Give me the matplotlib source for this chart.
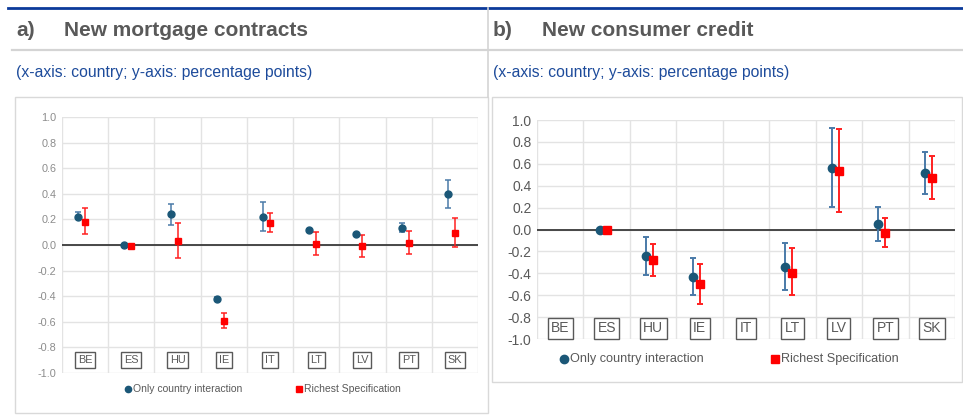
import numpy as np
import matplotlib
matplotlib.use('Agg')
import matplotlib.pyplot as plt
from matplotlib.lines import Line2D
from matplotlib.patches import Rectangle

plt.rcParams['font.family'] = ['Liberation Sans', 'DejaVu Sans']

countries = ['BE', 'ES', 'HU', 'IE', 'IT', 'LT', 'LV', 'PT', 'SK']

# a) new mortgage contracts
mort_only = [0.22, 0.0, 0.24, -0.42, 0.22, 0.115, 0.083, 0.135, 0.395]
mort_only_lo = [0.20, -0.005, 0.16, -0.435, 0.11, 0.105, 0.075, 0.10, 0.29]
mort_only_hi = [0.26, 0.005, 0.32, -0.405, 0.335, 0.125, 0.09, 0.175, 0.505]
mort_rich = [0.18, -0.005, 0.03, -0.595, 0.175, 0.008, -0.008, 0.016, 0.095]
mort_rich_lo = [0.085, -0.01, -0.105, -0.65, 0.103, -0.08, -0.095, -0.07, -0.013]
mort_rich_hi = [0.29, 0.0, 0.17, -0.535, 0.247, 0.103, 0.082, 0.108, 0.21]

# b) new consumer credit (no estimate for BE and IT)
cons_only = [np.nan, 0.0, -0.243, -0.432, np.nan, -0.343, 0.564, 0.049, 0.512]
cons_only_lo = [np.nan, 0.0, -0.413, -0.596, np.nan, -0.55, 0.201, -0.106, 0.326]
cons_only_hi = [np.nan, 0.0, -0.064, -0.264, np.nan, -0.125, 0.927, 0.207, 0.704]
cons_rich = [np.nan, 0.0, -0.283, -0.502, np.nan, -0.395, 0.534, -0.034, 0.47]
cons_rich_lo = [np.nan, 0.0, -0.429, -0.681, np.nan, -0.602, 0.159, -0.158, 0.28]
cons_rich_hi = [np.nan, 0.0, -0.131, -0.313, np.nan, -0.173, 0.921, 0.104, 0.668]

yticks = [-1.0, -0.8, -0.6, -0.4, -0.2, 0.0, 0.2, 0.4, 0.6, 0.8, 1.0]

W, H = 963, 419
fig = plt.figure(figsize=(W / 100, H / 100), dpi=100)


def px_rect(x0, y0, x1, y1):
    # pixel box (top-left origin) -> figure fraction
    return [x0 / W, 1 - y1 / H, (x1 - x0) / W, (y1 - y0) / H]


def hline(y, x0, x1, color, lw):
    fig.add_artist(Line2D([x0 / W, x1 / W], [1 - y / H, 1 - y / H], color=color, lw=lw))


def vline(x, y0, y1, color, lw):
    fig.add_artist(Line2D([x / W, x / W], [1 - y0 / H, 1 - y1 / H], color=color, lw=lw))


# header frame
hline(8, 8, 963, '#0b3a9a', 2.0)
hline(50, 12, 963, '#d4d4d4', 1.6)
vline(487.5, 8, 97, '#d4d4d4', 1.2)

fig.text(16 / W, 1 - 30 / H, 'a)', fontsize=15, fontweight='bold', color='#595959', va='center')
fig.text(64 / W, 1 - 30 / H, 'New mortgage contracts', fontsize=15, fontweight='bold',
         color='#595959', va='center')
fig.text(493 / W, 1 - 30 / H, 'b)', fontsize=15, fontweight='bold', color='#595959', va='center')
fig.text(542 / W, 1 - 30 / H, 'New consumer credit', fontsize=15, fontweight='bold',
         color='#595959', va='center')
sub = '(x-axis: country; y-axis: percentage points)'
fig.text(16 / W, 1 - 72 / H, sub, fontsize=11.3, color='#1d4b9b', va='center')
fig.text(493 / W, 1 - 72 / H, sub, fontsize=11.3, color='#1d4b9b', va='center')

# chart panels
for (x0, y0, x1, y1) in [(15, 97, 488, 413), (492, 97, 962, 382)]:
    fig.add_artist(Rectangle((x0 / W, 1 - y1 / H), (x1 - x0) / W, (y1 - y0) / H,
                             fill=False, ec='#d9d9d9', lw=1.0))


def draw(ax, only, only_lo, only_hi, rich, rich_lo, rich_hi, fs, tick_col, ms, lw, box_fs):
    x = np.arange(len(countries))
    only = np.array(only)
    rich = np.array(rich)
    err_o = [only - np.array(only_lo), np.array(only_hi) - only]
    err_r = [rich - np.array(rich_lo), np.array(rich_hi) - rich]
    ax.set_xlim(-0.5, len(countries) - 0.5)
    ax.set_ylim(-1.0, 1.0)
    ax.set_yticks(yticks)
    ax.set_yticklabels([f'{v:.1f}' for v in yticks])
    ax.set_xticks(np.arange(-0.5, len(countries), 1.0))
    ax.tick_params(axis='x', length=0, labelbottom=False)
    ax.tick_params(axis='y', length=0, labelsize=fs, colors=tick_col, pad=4)
    ax.grid(True, color='#e3e3e3', lw=1.0)
    ax.set_axisbelow(True)
    for s in ax.spines.values():
        s.set_visible(False)
    ax.axhline(0, color='#3a3a3a', lw=1.3, zorder=2)
    ax.errorbar(x - 0.15, only, yerr=err_o, fmt='none', ecolor='#4a7aa8', elinewidth=lw,
                capsize=2, capthick=lw, zorder=3)
    ax.errorbar(x, rich, yerr=err_r, fmt='none', ecolor='#ff2020', elinewidth=lw,
                capsize=2, capthick=lw, zorder=3)
    ax.plot(x - 0.15, only, 'o', color='#1b5777', ms=ms, ls='none', zorder=4)
    ax.plot(x, rich, 's', color='#ff0000', ms=ms, ls='none', zorder=4)
    for i, c in enumerate(countries):
        ax.text(i, -0.9, c, ha='center', va='center', fontsize=box_fs, color='#595959',
                bbox=dict(boxstyle='square,pad=0.25', fc='white', ec='#595959', lw=1.0), zorder=5)


ax_a = fig.add_axes(px_rect(62, 117, 478, 373))
draw(ax_a, mort_only, mort_only_lo, mort_only_hi, mort_rich, mort_rich_lo, mort_rich_hi,
     fs=7.8, tick_col='#8c8c8c', ms=5, lw=1.1, box_fs=7.8)

ax_b = fig.add_axes(px_rect(537, 120, 955, 339))
draw(ax_b, cons_only, cons_only_lo, cons_only_hi, cons_rich, cons_rich_lo, cons_rich_hi,
     fs=10, tick_col='#595959', ms=6, lw=1.4, box_fs=10)

# legends
fig.add_artist(Line2D([128 / W], [1 - 389 / H], marker='o', color='#1b5777', ms=4.5, ls='none'))
fig.text(133 / W, 1 - 389 / H, 'Only country interaction', fontsize=7.5, color='#595959', va='center')
fig.add_artist(Line2D([299 / W], [1 - 389 / H], marker='s', color='#ff0000', ms=4.5, ls='none'))
fig.text(304 / W, 1 - 389 / H, 'Richest Specification', fontsize=7.5, color='#595959', va='center')

fig.add_artist(Line2D([564 / W], [1 - 359 / H], marker='o', color='#1b5777', ms=6, ls='none'))
fig.text(570 / W, 1 - 359 / H, 'Only country interaction', fontsize=9.1, color='#595959', va='center')
fig.add_artist(Line2D([775 / W], [1 - 359 / H], marker='s', color='#ff0000', ms=6, ls='none'))
fig.text(781 / W, 1 - 359 / H, 'Richest Specification', fontsize=9.1, color='#595959', va='center')

fig.savefig('out.png', dpi=100)
